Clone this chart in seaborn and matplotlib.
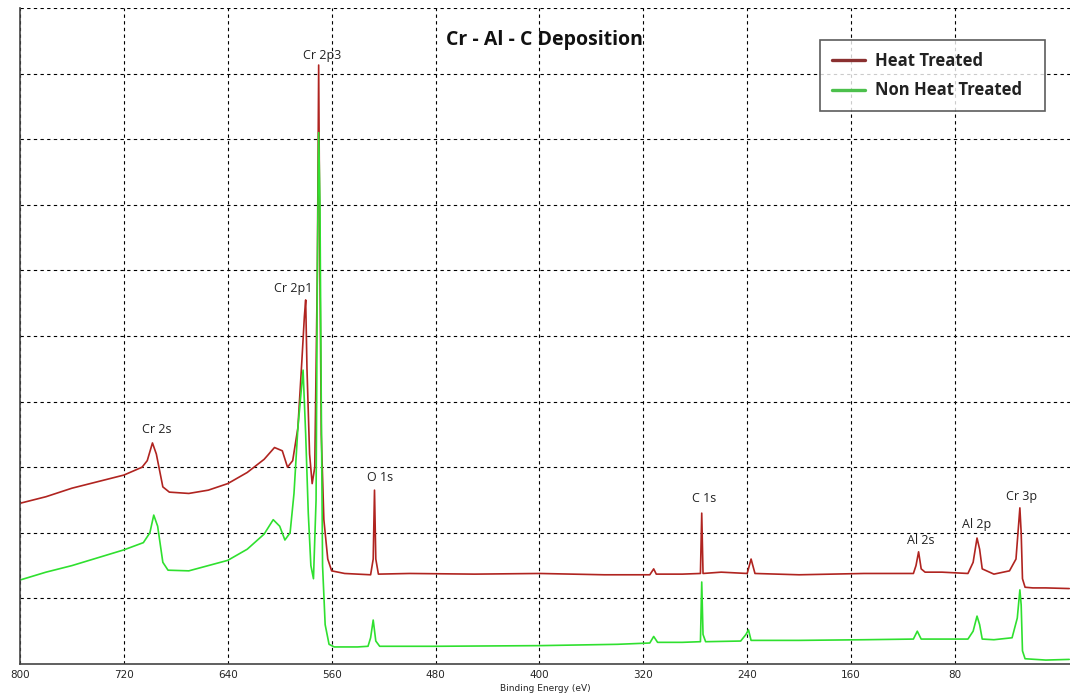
import numpy as np
import pandas as pd
import matplotlib
matplotlib.use("Agg")
import matplotlib.pyplot as plt
from matplotlib.lines import Line2D
import seaborn as sns

# ---------------- data ----------------
series_names = ["Heat Treated", "Non Heat Treated"]

ht_energy = [800, 780, 760, 740, 720, 706, 702, 698, 695, 690, 685, 670, 655, 640, 625,
             612, 604, 598, 594, 590, 586, 583, 581, 580, 579, 577, 575, 573, 571, 570,
             569, 568, 566, 563, 560, 550, 530, 528, 527, 526, 524, 500, 450, 400, 350,
             315, 312, 310, 290, 276, 275, 274, 260, 240, 237, 234, 200, 150, 112, 110,
             108, 106, 103, 90, 70, 66, 63, 61, 59, 50, 38, 33, 30, 29, 28, 26, 20, 10, -8]
ht_counts = [2.45, 2.55, 2.68, 2.78, 2.88, 3.0, 3.1, 3.37, 3.2, 2.7, 2.62, 2.6, 2.65, 2.75, 2.92,
             3.12, 3.3, 3.25, 3.0, 3.1, 3.6, 4.6, 5.3, 5.55, 4.5, 3.2, 2.75, 3.0, 6.0, 9.13,
             6.0, 3.5, 2.2, 1.6, 1.42, 1.38, 1.36, 1.6, 2.65, 1.6, 1.37, 1.38, 1.37, 1.38, 1.36,
             1.36, 1.45, 1.37, 1.37, 1.38, 2.3, 1.38, 1.4, 1.38, 1.6, 1.38, 1.36, 1.38, 1.38, 1.5,
             1.71, 1.45, 1.4, 1.4, 1.38, 1.55, 1.92, 1.75, 1.45, 1.37, 1.42, 1.6, 2.38, 2.0, 1.3, 1.17, 1.16, 1.16, 1.15]

nht_energy = [800, 780, 760, 740, 720, 705, 700, 697, 694, 690, 686, 670, 655, 640, 625,
              612, 605, 600, 596, 592, 589, 586, 582, 580, 578, 576, 574, 572, 571, 570,
              569, 568, 567, 565, 562, 558, 540, 532, 530, 528, 526, 523, 480, 400, 340,
              315, 312, 309, 290, 276, 275, 274, 272, 245, 241, 239, 237, 200, 150, 112,
              109, 106, 90, 70, 66, 63, 61, 59, 50, 36, 32, 30, 29, 28, 26, 10, -8]
nht_counts = [1.28, 1.4, 1.5, 1.62, 1.74, 1.85, 2.0, 2.27, 2.1, 1.55, 1.43, 1.42, 1.5, 1.58, 1.75,
              1.98, 2.2, 2.1, 1.89, 2.0, 2.6, 3.6, 4.48, 3.5, 2.3, 1.5, 1.3, 2.5, 6.0, 8.1,
              7.0, 4.0, 1.5, 0.6, 0.3, 0.26, 0.26, 0.27, 0.4, 0.67, 0.35, 0.27, 0.27, 0.28, 0.3,
              0.32, 0.42, 0.33, 0.33, 0.34, 1.25, 0.45, 0.34, 0.35, 0.45, 0.52, 0.36, 0.36, 0.37, 0.38,
              0.5, 0.38, 0.38, 0.38, 0.5, 0.73, 0.6, 0.38, 0.37, 0.4, 0.7, 1.13, 0.9, 0.2, 0.08, 0.06, 0.07]

peak_names = ["Cr 2p3", "Cr 2p1", "Cr 2s", "O 1s", "C 1s", "Al 2s", "Al 2p", "Cr 3p"]
peak_label_energy = [567.4, 589.8, 694.5, 522.8, 273.3, 106.2, 63.0, 28.4]
peak_label_level = [9.28, 5.73, 3.57, 2.84, 2.53, 1.89, 2.13, 2.56]

x_ticks = [800, 720, 640, 560, 480, 400, 320, 240, 160, 80]

# ---------------- figure ----------------
sns.set_style("white")
plt.rcParams["font.family"] = ["Open Sans", "DejaVu Sans"]

df = pd.concat([
    pd.DataFrame({"Binding Energy (eV)": ht_energy, "Counts": ht_counts, "Series": series_names[0]}),
    pd.DataFrame({"Binding Energy (eV)": nht_energy, "Counts": nht_counts, "Series": series_names[1]}),
], ignore_index=True)

fig = plt.figure(figsize=(10.70, 6.98), dpi=100)
ax = fig.add_axes([20 / 1070, 34 / 698, 1050 / 1070, 656 / 698])

palette = {series_names[0]: "#b02420", series_names[1]: "#2fe02f"}
sns.lineplot(data=df, x="Binding Energy (eV)", y="Counts", hue="Series", palette=palette,
             estimator=None, linewidth=1.2, ax=ax, legend=False)

ax.set_xlim(800, -8.6)
ax.set_ylim(0, 10)
ax.set_xticks(x_ticks)
ax.set_xticklabels([str(t) for t in x_ticks], fontsize=7.5, family="DejaVu Sans")
ax.set_yticks(np.arange(1, 11))
ax.set_yticklabels([])
ax.tick_params(axis="both", length=0, pad=4)
ax.grid(True, color="black", linestyle=(0, (3, 3)), linewidth=0.8)
for s in ["top", "right"]:
    ax.spines[s].set_visible(False)
for s in ["left", "bottom"]:
    ax.spines[s].set_color("#444444")
    ax.spines[s].set_linewidth(1.2)
ax.set_xlabel("Binding Energy (eV)", fontsize=6.5, family="DejaVu Sans", labelpad=3)
ax.set_ylabel("")

for name, ex, ey in zip(peak_names, peak_label_energy, peak_label_level):
    ax.text(ex, ey, name, ha="center", va="center", fontsize=9, color="#222222")

fig.text(0.509, 0.943, "Cr - Al - C Deposition", ha="center", va="center",
         fontsize=14, fontweight="bold", color="#111111")

handles = [Line2D([], [], color="#8a3030", lw=2.4), Line2D([], [], color="#4cc04c", lw=2.4)]
leg = ax.legend(handles, series_names, loc="upper left",
                bbox_to_anchor=(0.762, 0.951, 0.214, 0.0), mode="expand",
                prop={"weight": "bold", "size": 12}, frameon=True, fancybox=False,
                handlelength=2.0, borderpad=0.7, labelspacing=0.7, handletextpad=0.6,
                borderaxespad=0)
leg.get_frame().set_edgecolor("#333333")
leg.get_frame().set_linewidth(1.2)
for t in leg.get_texts():
    t.set_color("#222222")

fig.savefig("out.png", dpi=100)
